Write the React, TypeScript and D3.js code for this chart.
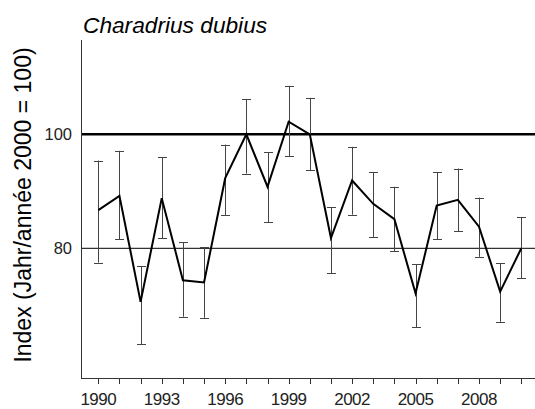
import React from "react";
import * as d3 from "d3";

const years = [1990,1991,1992,1993,1994,1995,1996,1997,1998,1999,2000,2001,2002,2003,2004,2005,2006,2007,2008,2009,2010];
const indexValues = [86.7,89.2,70.6,88.8,74.4,74.0,92.3,100.0,90.8,102.2,100.0,81.8,91.9,87.8,85.1,72.1,87.5,88.5,83.8,72.4,80.0];
const upperValues = [95.4,97.1,76.9,96.0,81.1,80.2,98.2,106.2,96.9,108.5,106.4,87.2,97.8,93.4,90.8,77.2,93.3,94.0,88.9,77.4,85.5];
const lowerValues = [77.5,81.6,63.2,81.8,68.0,67.8,85.8,93.1,84.6,96.2,93.7,75.6,85.9,82.0,79.5,66.2,81.6,83.0,78.5,67.1,74.8];
const yTickValues = [80, 100];
const xTickLabels = [1990, 1993, 1996, 1999, 2002, 2005, 2008];
const title = "Charadrius dubius";
const yLabel = "Index (Jahr/année 2000 = 100)";

export default function App() {
  const W = 535, H = 409;
  const x = d3.scaleLinear().domain([1990, 2010]).range([98.3, 521.3]);
  const y = d3.scaleLinear().domain([100, 80]).range([134.3, 248.3]);
  const left = 81, right = 535, top = 40, bottom = 378;
  const line = d3.line<number>().x((_, i) => x(years[i])).y(d => y(d));
  const font = "Arial, 'Liberation Sans', sans-serif";
  return (
    <svg width={W} height={H} style={{ position: "absolute", left: 0, top: 0, background: "#fff" }}>
      <text x={83} y={33} fontFamily={font} fontStyle="italic" fontSize={22.7} fill="#000">{title}</text>
      {/* reference lines */}
      <line x1={left} x2={right} y1={y(100)} y2={y(100)} stroke="#000" strokeWidth={2.5} />
      <line x1={left} x2={right} y1={y(80)} y2={y(80)} stroke="#000" strokeWidth={1} />
      {/* axes */}
      <line x1={left + 0.5} x2={left + 0.5} y1={top} y2={bottom} stroke="#333" strokeWidth={1} />
      <line x1={left} x2={right} y1={bottom + 0.5} y2={bottom + 0.5} stroke="#333" strokeWidth={1} />
      {years.map(yr => (
        <line key={"t" + yr} x1={Math.round(x(yr)) + 0.5} x2={Math.round(x(yr)) + 0.5} y1={bottom} y2={bottom + 6} stroke="#333" strokeWidth={1} />
      ))}
      {xTickLabels.map(yr => (
        <text key={"l" + yr} x={x(yr)} y={405} textAnchor="middle" fontFamily={font} fontSize={17} letterSpacing={-0.5} fill="#222">{yr}</text>
      ))}
      {yTickValues.map(v => (
        <text key={"y" + v} x={72} y={y(v) + 6} textAnchor="end" fontFamily={font} fontSize={16.5} fill="#222">{v}</text>
      ))}
      <text transform={`translate(31,205) rotate(-90)`} textAnchor="middle" fontFamily={font} fontSize={23} fill="#000">{yLabel}</text>
      {/* error bars */}
      {years.map((yr, i) => {
        const cx = Math.round(x(yr)) + 0.5;
        return (
          <g key={"e" + yr} stroke="#444" strokeWidth={1}>
            <line x1={cx} x2={cx} y1={y(upperValues[i])} y2={y(lowerValues[i])} />
            <line x1={cx - 4.5} x2={cx + 4.5} y1={Math.round(y(upperValues[i])) + 0.5} y2={Math.round(y(upperValues[i])) + 0.5} />
            <line x1={cx - 4.5} x2={cx + 4.5} y1={Math.round(y(lowerValues[i])) + 0.5} y2={Math.round(y(lowerValues[i])) + 0.5} />
          </g>
        );
      })}
      <path d={line(indexValues) || ""} fill="none" stroke="#000" strokeWidth={2} strokeLinejoin="miter" />
    </svg>
  );
}
